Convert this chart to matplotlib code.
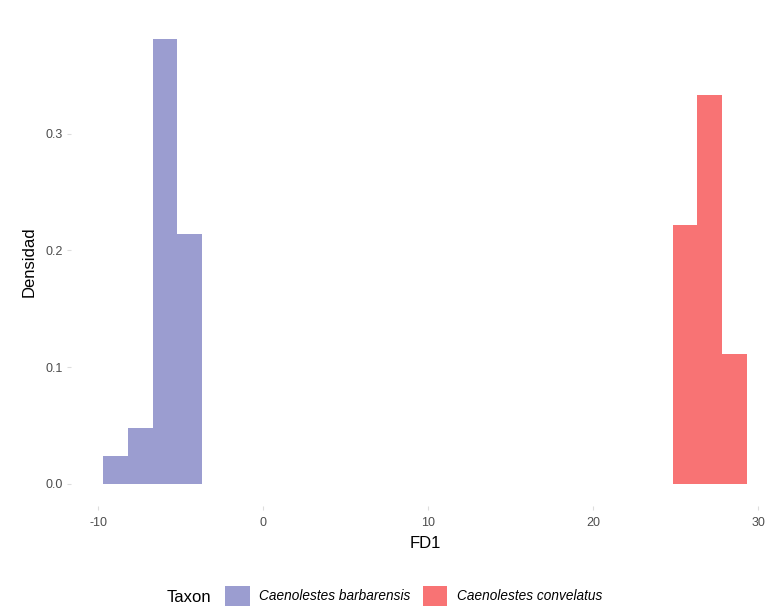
import matplotlib
matplotlib.use("Agg")
import matplotlib.pyplot as plt
from matplotlib.patches import Patch

plt.rcParams["font.family"] = ["Liberation Sans", "DejaVu Sans"]
plt.rcParams["axes.unicode_minus"] = False

# Histogram (density) of the first discriminant function by taxon
taxa = ["Caenolestes barbarensis", "Caenolestes convelatus"]
colors = ["#9b9dd0", "#f87374"]
bin_width = 1.5
barbarensis_left_edges = [-9.7, -8.2, -6.7, -5.2]
barbarensis_density = [0.0238, 0.0476, 0.381, 0.214]
convelatus_left_edges = [24.8, 26.3, 27.8]
convelatus_density = [0.222, 0.333, 0.111]

x_ticks = [-10, 0, 10, 20, 30]
y_ticks = [0.0, 0.1, 0.2, 0.3]

fig = plt.figure(figsize=(7.81, 6.10), dpi=100)
ax = fig.add_axes([71 / 781, 1 - 506 / 610, (779 - 71) / 781, (506 - 17) / 610])

ax.bar(barbarensis_left_edges, barbarensis_density, width=bin_width,
       align="edge", color=colors[0], linewidth=0)
ax.bar(convelatus_left_edges, convelatus_density, width=bin_width,
       align="edge", color=colors[1], linewidth=0)

ax.set_xlim(-11.65, 31.25)
ax.set_ylim(-0.019, 0.400)
ax.set_xticks(x_ticks)
ax.set_xticklabels([str(v) for v in x_ticks])
ax.set_yticks(y_ticks)
ax.set_yticklabels([f"{v:.1f}" for v in y_ticks])
ax.tick_params(axis="both", colors="#dddddd", labelcolor="#4d4d4d",
               labelsize=9, length=3, width=0.8)
ax.tick_params(axis="x", pad=5)
ax.tick_params(axis="y", pad=3)
for s in ax.spines.values():
    s.set_visible(False)
ax.set_facecolor("white")

ax.set_xlabel("FD1", fontsize=12, color="black", labelpad=5)
ax.set_ylabel("Densidad", fontsize=12, color="black", labelpad=6)

# Legend along the bottom, title on the left
fig.text(167 / 781, 1 - 598 / 610, "Taxon", fontsize=12, va="center", ha="left")
handles = [Patch(facecolor=c, edgecolor="none") for c in colors]
leg = fig.legend(handles, taxa, loc="center left",
                 bbox_to_anchor=(213 / 781, 1 - 596 / 610), ncol=2,
                 frameon=False, handlelength=1.8, handleheight=1.8,
                 handletextpad=0.7, columnspacing=0.9,
                 prop={"style": "italic", "size": 9.8})

fig.savefig("out.png", dpi=100, facecolor="white")
